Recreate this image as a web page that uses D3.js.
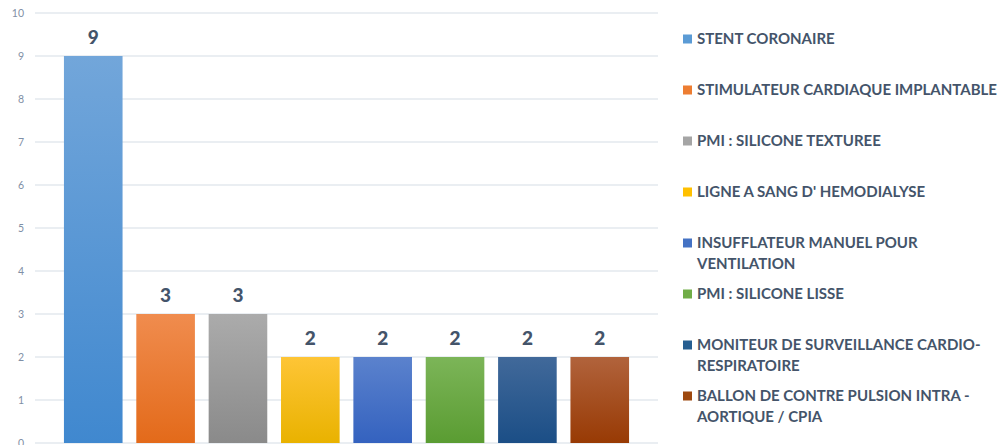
<!DOCTYPE html>
<html>
<head>
<meta charset="utf-8">
<script src="https://cdn.jsdelivr.net/npm/d3@7"></script>
<style>
  html, body { margin: 0; padding: 0; background: #fff; }
  svg { display: block; font-family: Lato, "Open Sans", sans-serif; }
</style>
</head>
<body>
<svg id="chart" width="1005" height="445"></svg>
<script>
// Dispositifs médicaux et nombre de signalements
const categories = [
  "STENT CORONAIRE",
  "STIMULATEUR CARDIAQUE IMPLANTABLE",
  "PMI : SILICONE TEXTUREE",
  "LIGNE A SANG D' HEMODIALYSE",
  "INSUFFLATEUR MANUEL POUR VENTILATION",
  "PMI : SILICONE LISSE",
  "MONITEUR DE SURVEILLANCE CARDIO-RESPIRATOIRE",
  "BALLON DE CONTRE PULSION INTRA - AORTIQUE / CPIA"
];
const values = [9, 3, 3, 2, 2, 2, 2, 2];
const legendLines = [
  ["STENT CORONAIRE"],
  ["STIMULATEUR CARDIAQUE IMPLANTABLE"],
  ["PMI : SILICONE TEXTUREE"],
  ["LIGNE A SANG D' HEMODIALYSE"],
  ["INSUFFLATEUR MANUEL POUR", "VENTILATION"],
  ["PMI : SILICONE LISSE"],
  ["MONITEUR DE SURVEILLANCE CARDIO-", "RESPIRATOIRE"],
  ["BALLON DE CONTRE PULSION INTRA -", "AORTIQUE / CPIA"]
];
const yTicks = [0, 1, 2, 3, 4, 5, 6, 7, 8, 9, 10];
// [top, bottom] gradient colours for each bar
const colorTop = ["#72a6da", "#f08c4e", "#ababab", "#fec536", "#5b82cd", "#7cb558", "#41699a", "#b1633c"];
const colorBottom = ["#4088cf", "#e36a1a", "#8a8a8a", "#e9b200", "#3462bf", "#5a9c32", "#1b4e86", "#983a04"];
const swatch = ["#5b9bd5", "#ed7d31", "#a5a5a5", "#ffc000", "#4472c4", "#70ad47", "#255e91", "#9e480e"];

const svg = d3.select("#chart");
const plot = { left: 35, right: 658, top: 13, bottom: 443 };

const x = d3.scaleBand()
  .domain(categories)
  .range([plot.left, plot.right])
  .paddingInner(0.19)
  .paddingOuter(0.4);

const y = d3.scaleLinear()
  .domain([0, 10])
  .range([plot.bottom, plot.top]);

// gradients
const defs = svg.append("defs");
categories.forEach((c, i) => {
  const g = defs.append("linearGradient")
    .attr("id", "grad" + i)
    .attr("x1", 0).attr("y1", 0).attr("x2", 0).attr("y2", 1);
  g.append("stop").attr("offset", "0%").attr("stop-color", colorTop[i]);
  g.append("stop").attr("offset", "100%").attr("stop-color", colorBottom[i]);
});

// grid lines
svg.append("g")
  .selectAll("line")
  .data(yTicks)
  .join("line")
  .attr("x1", plot.left)
  .attr("x2", plot.right)
  .attr("y1", d => y(d))
  .attr("y2", d => y(d))
  .attr("stroke", "#e3e8ee")
  .attr("stroke-width", 1.6);

// y axis labels
const yAxis = d3.axisLeft(y).tickValues(yTicks).tickSize(0).tickPadding(0).tickFormat(d3.format("d"));
svg.append("g")
  .attr("transform", `translate(${plot.left - 11},0)`)
  .call(yAxis)
  .call(g => g.select(".domain").remove())
  .call(g => g.selectAll("text")
    .attr("fill", "#7f8fa6")
    .attr("font-size", 10.5)
    .attr("font-family", "Lato, sans-serif"));

// bars
svg.append("g")
  .selectAll("rect")
  .data(values)
  .join("rect")
  .attr("x", (d, i) => x(categories[i]))
  .attr("width", x.bandwidth())
  .attr("y", d => y(d))
  .attr("height", d => y(0) - y(d))
  .attr("fill", (d, i) => `url(#grad${i})`);

// value labels
svg.append("g")
  .selectAll("text")
  .data(values)
  .join("text")
  .attr("x", (d, i) => x(categories[i]) + x.bandwidth() / 2)
  .attr("y", d => y(d) - 12)
  .attr("text-anchor", "middle")
  .attr("font-size", 19)
  .attr("font-weight", 900)
  .attr("fill", "#44546a")
  .text(d => d);

// legend
const legend = svg.append("g").attr("class", "legend");
const item = legend.selectAll("g")
  .data(legendLines)
  .join("g")
  .attr("transform", (d, i) => `translate(683,${39 + 51 * i})`);

item.append("rect")
  .attr("x", 0)
  .attr("y", -4.5)
  .attr("width", 9)
  .attr("height", 9)
  .attr("fill", (d, i) => swatch[i]);

item.each(function (lines) {
  const t = d3.select(this).append("text")
    .attr("x", 14)
    .attr("y", 0)
    .attr("font-size", 15)
    .attr("font-weight", "bold")
    .attr("fill", "#44546a");
  lines.forEach((ln, j) => {
    t.append("tspan").attr("x", 14).attr("y", j * 21).attr("dy", "0.35em").text(ln);
  });
});
</script>
</body>
</html>
